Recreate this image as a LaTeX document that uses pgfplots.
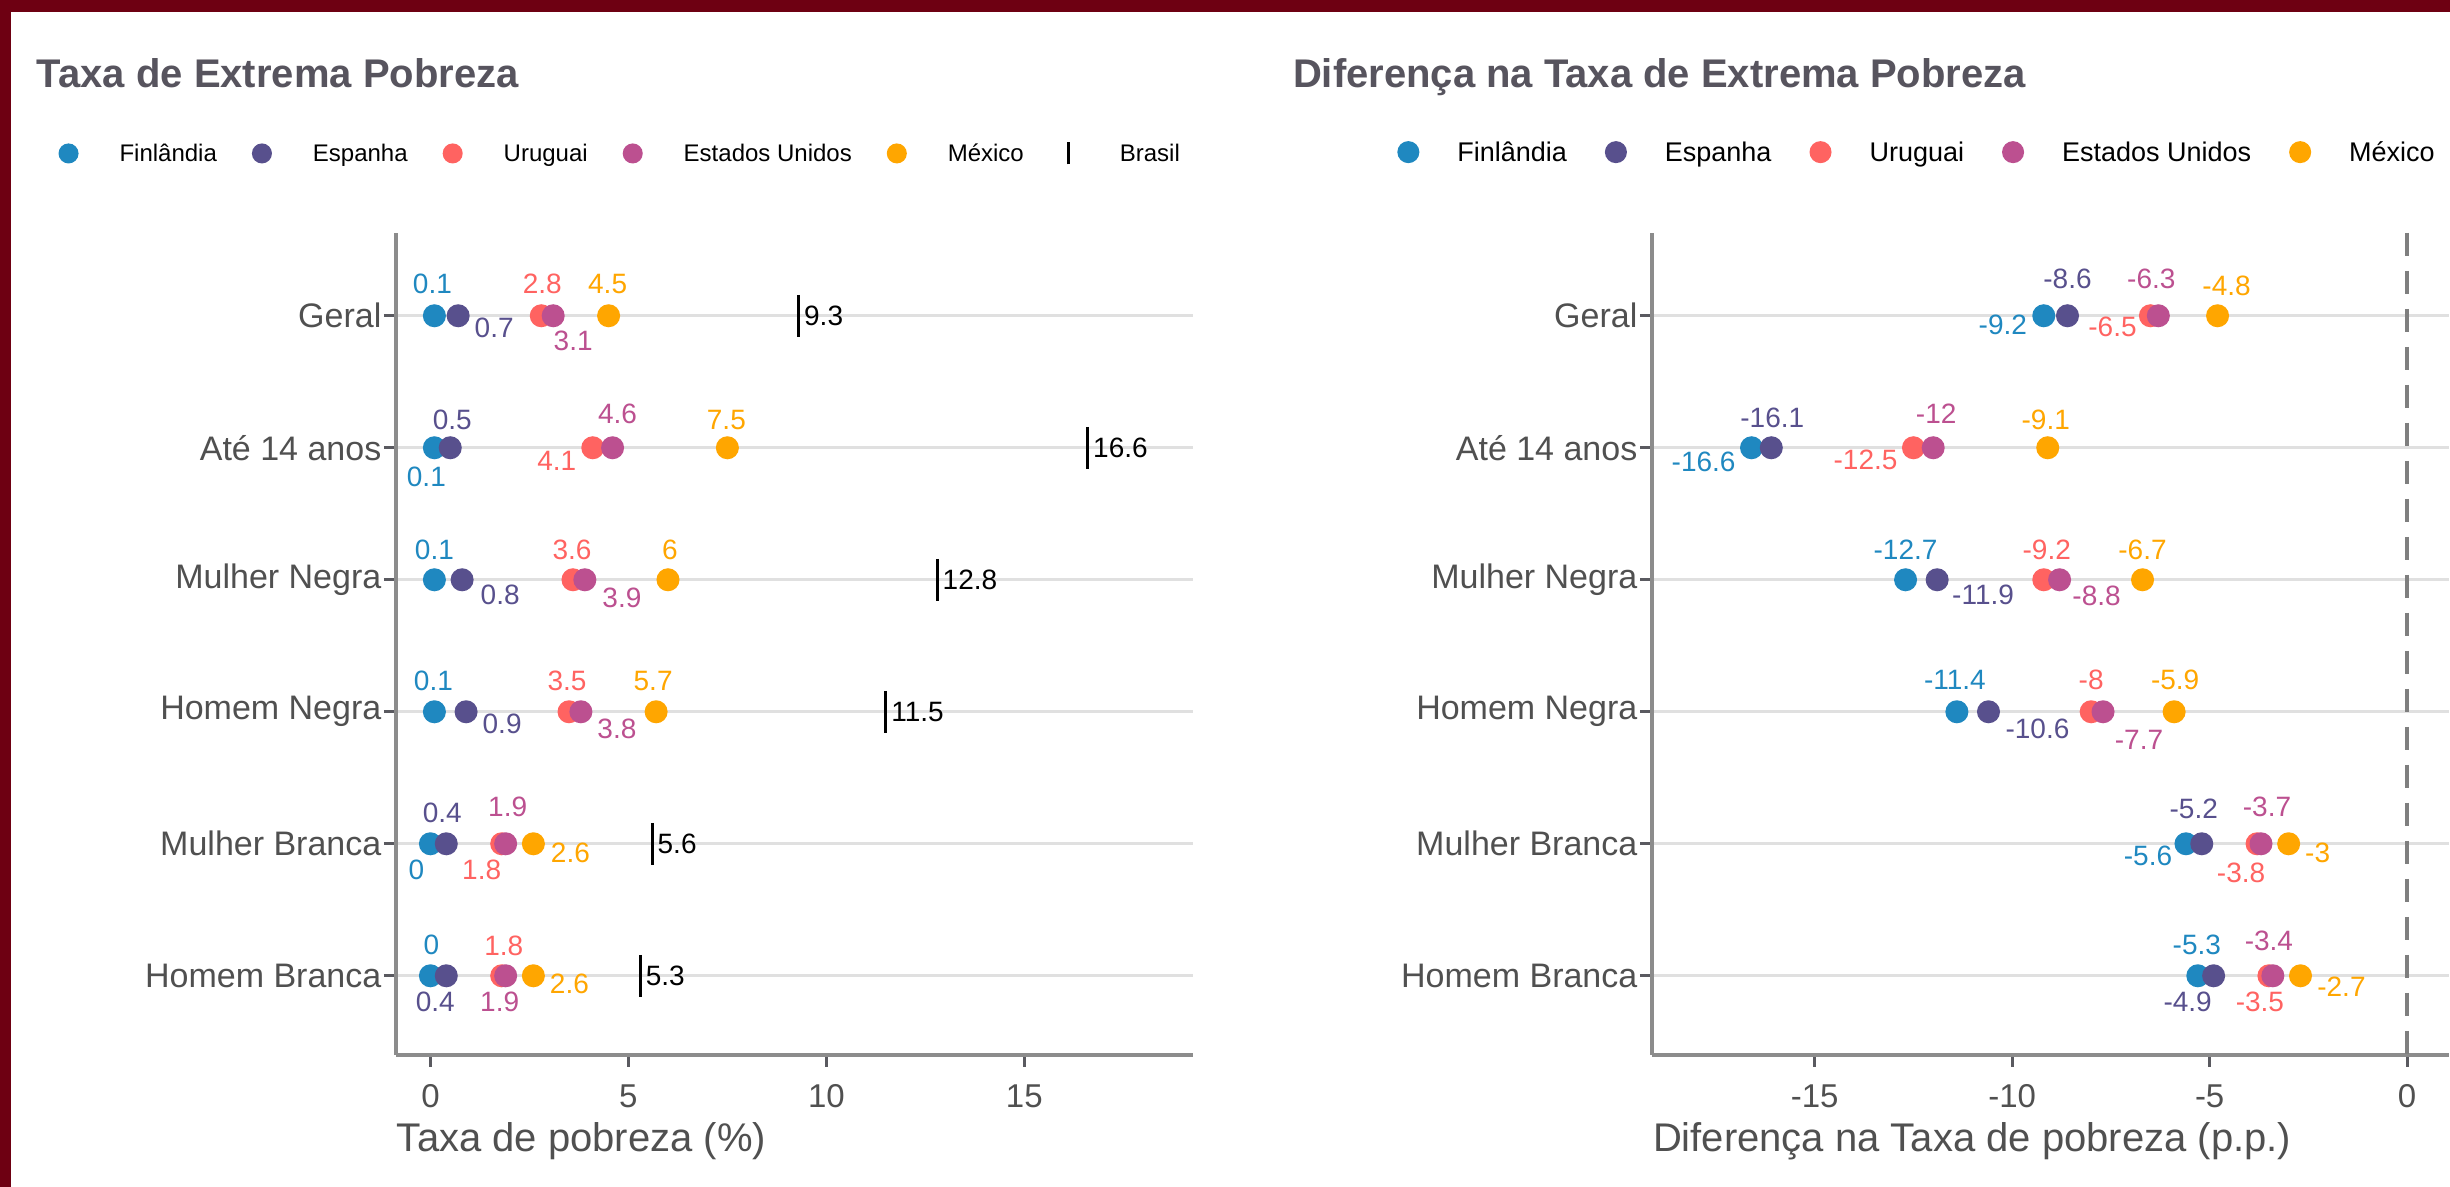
\documentclass[border=0pt]{standalone}
\usepackage{fontspec}
\setmainfont{Liberation Sans}
\usepackage{pgfplots}
\pgfplotsset{compat=1.18}
\usepackage{pgfplotstable}

\definecolor{borderred}{HTML}{6E0012}
\definecolor{finc}{HTML}{1F88C0}
\definecolor{espc}{HTML}{58508D}
\definecolor{uruc}{HTML}{FF6361}
\definecolor{euac}{HTML}{BC5090}
\definecolor{mexc}{HTML}{FFA600}
\definecolor{axisgray}{HTML}{8C8C8C}
\definecolor{tickgray}{HTML}{5A5A60}
\definecolor{gridgray}{HTML}{E0E0E0}
\definecolor{labgray}{HTML}{505050}
\definecolor{titlegray}{HTML}{57545E}
\definecolor{dashgray}{HTML}{7F7F7F}

% columns: y (row), x (value), dx/dy = label offset in px (dy upward), lab = label text
% ---- left panel: taxa de extrema pobreza (%)
\pgfplotstableread{
y x dx dy lab
6 0.1 -2 32 0.1
5 0.1 -8 -29 0.1
4 0.1 0 30 0.1
3 0.1 -1 31 0.1
2 0 -14 -26 0
1 0 1 31 0
}\finA
\pgfplotstableread{
y x dx dy lab
6 0.7 36 -12 0.7
5 0.5 2 28 0.5
4 0.8 38 -15 0.8
3 0.9 36 -12 0.9
2 0.4 -4 31 0.4
1 0.4 -11 -26 0.4
}\espA
\pgfplotstableread{
y x dx dy lab
6 2.8 1 32 2.8
5 4.1 -36 -13 4.1
4 3.6 -1 30 3.6
3 3.5 -2 31 3.5
2 1.8 -20 -26 1.8
1 1.8 2 30 1.8
}\uruA
\pgfplotstableread{
y x dx dy lab
6 3.1 20 -25 3.1
5 4.6 5 34 4.6
4 3.9 37 -18 3.9
3 3.8 36 -17 3.8
2 1.9 2 37 1.9
1 1.9 -6 -26 1.9
}\euaA
\pgfplotstableread{
y x dx dy lab
6 4.5 -1 32 4.5
5 7.5 -1 28 7.5
4 6 2 30 6
3 5.7 -3 31 5.7
2 2.6 37 -9 2.6
1 2.6 36 -8 2.6
}\mexA
\pgfplotstableread{
y x lab
6 9.3 9.3
5 16.6 16.6
4 12.8 12.8
3 11.5 11.5
2 5.6 5.6
1 5.3 5.3
}\braA

% ---- right panel: diferenca para o Brasil (p.p.)
\pgfplotstableread{
y x dx dy lab
6 -9.2 -41 -9 -9.2
5 -16.6 -48 -14 -16.6
4 -12.7 0 30 -12.7
3 -11.4 -2 32 -11.4
2 -5.6 -38 -12 -5.6
1 -5.3 -1 31 -5.3
}\finB
\pgfplotstableread{
y x dx dy lab
6 -8.6 0 37 -8.6
5 -16.1 1 30 -16.1
4 -11.9 46 -15 -11.9
3 -10.6 49 -17 -10.6
2 -5.2 -8 35 -5.2
1 -4.9 -26 -26 -4.9
}\espB
\pgfplotstableread{
y x dx dy lab
6 -6.5 -38 -11 -6.5
5 -12.5 -48 -12 -12.5
4 -9.2 3 30 -9.2
3 -8 0 32 -8
2 -3.8 -16 -29 -3.8
1 -3.5 -9 -26 -3.5
}\uruB
\pgfplotstableread{
y x dx dy lab
6 -6.3 -7 37 -6.3
5 -12 3 34 -12
4 -8.8 37 -16 -8.8
3 -7.7 36 -28 -7.7
2 -3.7 6 37 -3.7
1 -3.4 -4 35 -3.4
}\euaB
\pgfplotstableread{
y x dx dy lab
6 -4.8 9 30 -4.8
5 -9.1 -2 28 -9.1
4 -6.7 0 30 -6.7
3 -5.9 1 32 -5.9
2 -3 29 -9 -3
1 -2.7 41 -11 -2.7
}\mexB

\newcommand\lblfont{\fontsize{5.6}{6}\selectfont}
\newcommand\tickfont{\fontsize{6.6}{7}\selectfont}
\def\legr{1.8pt}

\pgfplotsset{
  panel/.style={
    scale only axis, width=159.4pt, height=164.4pt, anchor=south west,
    ymin=0.4, ymax=6.627,
    axis x line*=bottom, axis y line*=left,
    axis line style={draw=axisgray, line width=0.75pt},
    ytick={1,...,6},
    yticklabels={Homem Branca, Mulher Branca, Homem Negra, Mulher Negra, Até 14 anos, Geral},
    tick align=outside, major tick length=2.4pt,
    tick style={draw=tickgray, line width=0.6pt},
    ymajorgrids, major grid style={draw=gridgray, line width=0.66pt},
    ticklabel style={font=\tickfont, text=labgray},
    yticklabel style={font=\fontsize{6.8}{7}\selectfont, xshift=3pt},
    /pgf/number format/assume math mode=true,
    xlabel style={at={(axis description cs:0,0)}, anchor=base west, yshift=-19.4pt,
      font=\fontsize{8}{9}\selectfont, text=labgray, inner sep=0pt},
    clip=false,
    legend cell align=left,
    legend style={draw=none, fill=none, inner sep=0pt, outer sep=0pt, anchor=west,
      nodes={inner sep=0pt}},
  },
  pt/.style={only marks, mark=*, mark size=2.1pt, color=#1,
    mark options={draw=none, fill=#1},
    legend image code/.code={\fill[#1] (0pt,0.6pt) circle (\legr);}},
  % labels: offsets are in px of the reference (39.54 px per x unit, 132 px per row)
  lab/.style={forget plot, draw=none, mark=none,
    nodes near coords, point meta=explicit symbolic,
    every node near coord/.append style={font=\lblfont, inner sep=0pt, anchor=center, text=#1}},
}

\begin{document}
\begin{tikzpicture}
\useasboundingbox (0,0) rectangle (490pt,237.4pt);
\fill[borderred] (0,0) rectangle (490pt,237.4pt);
\fill[white] (2.2pt,0) rectangle (490pt,235pt);

\node[anchor=base west, inner sep=0pt, font=\bfseries\fontsize{8}{9}\selectfont, text=titlegray]
  at (7.2pt,219.8pt) {Taxa de Extrema Pobreza};
\node[anchor=base west, inner sep=0pt, font=\bfseries\fontsize{8}{9}\selectfont, text=titlegray]
  at (258.4pt,219.8pt) {Diferença na Taxa de Extrema Pobreza};

% left panel
\begin{axis}[panel, at={(79.2pt,26.4pt)},
  xmin=-0.87, xmax=19.26, xtick={0,5,10,15},
  xlabel={Taxa de pobreza (\%)},
  legend columns=-1,
  legend style={at={(axis description cs:-0.4234,1.0949)},
    font=\fontsize{4.8}{5}\selectfont,
    /tikz/every odd column/.append style={column sep=8.2pt},
    /tikz/every even column/.append style={column sep=7.0pt}},
]
\addplot[pt=finc] table[x=x, y=y] {\finA};
\addlegendentry{Finlândia}
\addplot[pt=espc] table[x=x, y=y] {\espA};
\addlegendentry{Espanha}
\addplot[pt=uruc] table[x=x, y=y] {\uruA};
\addlegendentry{Uruguai}
\addplot[pt=euac] table[x=x, y=y] {\euaA};
\addlegendentry{Estados Unidos}
\addplot[pt=mexc] table[x=x, y=y] {\mexA};
\addlegendentry{México}
\addplot[only marks, mark=|, mark size=4.2pt, color=black, mark options={line width=0.6pt},
  legend image code/.code={\draw[black, line width=0.6pt] (0pt,-1.6pt) -- (0pt,2.8pt);
    \path (-1.8pt,0pt) (1.8pt,0pt);}]
  table[x=x, y=y] {\braA};
\addlegendentry{Brasil}
\addplot[lab=finc] table[x expr=\thisrow{x}+\thisrow{dx}/39.54, y expr=\thisrow{y}+\thisrow{dy}/132, meta=lab] {\finA};
\addplot[lab=espc] table[x expr=\thisrow{x}+\thisrow{dx}/39.54, y expr=\thisrow{y}+\thisrow{dy}/132, meta=lab] {\espA};
\addplot[lab=uruc] table[x expr=\thisrow{x}+\thisrow{dx}/39.54, y expr=\thisrow{y}+\thisrow{dy}/132, meta=lab] {\uruA};
\addplot[lab=euac] table[x expr=\thisrow{x}+\thisrow{dx}/39.54, y expr=\thisrow{y}+\thisrow{dy}/132, meta=lab] {\euaA};
\addplot[lab=mexc] table[x expr=\thisrow{x}+\thisrow{dx}/39.54, y expr=\thisrow{y}+\thisrow{dy}/132, meta=lab] {\mexA};
\addplot[forget plot, draw=none, mark=none, nodes near coords, point meta=explicit symbolic,
  every node near coord/.append style={font=\lblfont, inner sep=0pt, anchor=west,
    xshift=0.9pt, text=black}]
  table[x=x, y=y, meta=lab] {\braA};
\end{axis}

% right panel
\begin{axis}[panel, at={(330.4pt,26.4pt)},
  xmin=-19.12, xmax=1.06, xtick={-15,-10,-5,0},
  xlabel={Diferença na Taxa de pobreza (p.p.)},
  legend columns=-1,
  legend style={at={(axis description cs:-0.3195,1.0949)},
    font=\fontsize{5.4}{6}\selectfont,
    /tikz/every odd column/.append style={column sep=7.6pt},
    /tikz/every even column/.append style={column sep=7.6pt}},
]
\def\legr{2pt}
\addplot[draw=dashgray, line width=0.8pt, dash pattern=on 4.6pt off 3pt, forget plot]
  coordinates {(0,6.627) (0,0.4)};
\addplot[pt=finc] table[x=x, y=y] {\finB};
\addlegendentry{Finlândia}
\addplot[pt=espc] table[x=x, y=y] {\espB};
\addlegendentry{Espanha}
\addplot[pt=uruc] table[x=x, y=y] {\uruB};
\addlegendentry{Uruguai}
\addplot[pt=euac] table[x=x, y=y] {\euaB};
\addlegendentry{Estados Unidos}
\addplot[pt=mexc] table[x=x, y=y] {\mexB};
\addlegendentry{México}
\addplot[lab=finc] table[x expr=\thisrow{x}+\thisrow{dx}/39.54, y expr=\thisrow{y}+\thisrow{dy}/132, meta=lab] {\finB};
\addplot[lab=espc] table[x expr=\thisrow{x}+\thisrow{dx}/39.54, y expr=\thisrow{y}+\thisrow{dy}/132, meta=lab] {\espB};
\addplot[lab=uruc] table[x expr=\thisrow{x}+\thisrow{dx}/39.54, y expr=\thisrow{y}+\thisrow{dy}/132, meta=lab] {\uruB};
\addplot[lab=euac] table[x expr=\thisrow{x}+\thisrow{dx}/39.54, y expr=\thisrow{y}+\thisrow{dy}/132, meta=lab] {\euaB};
\addplot[lab=mexc] table[x expr=\thisrow{x}+\thisrow{dx}/39.54, y expr=\thisrow{y}+\thisrow{dy}/132, meta=lab] {\mexB};
\end{axis}
\end{tikzpicture}
\end{document}
